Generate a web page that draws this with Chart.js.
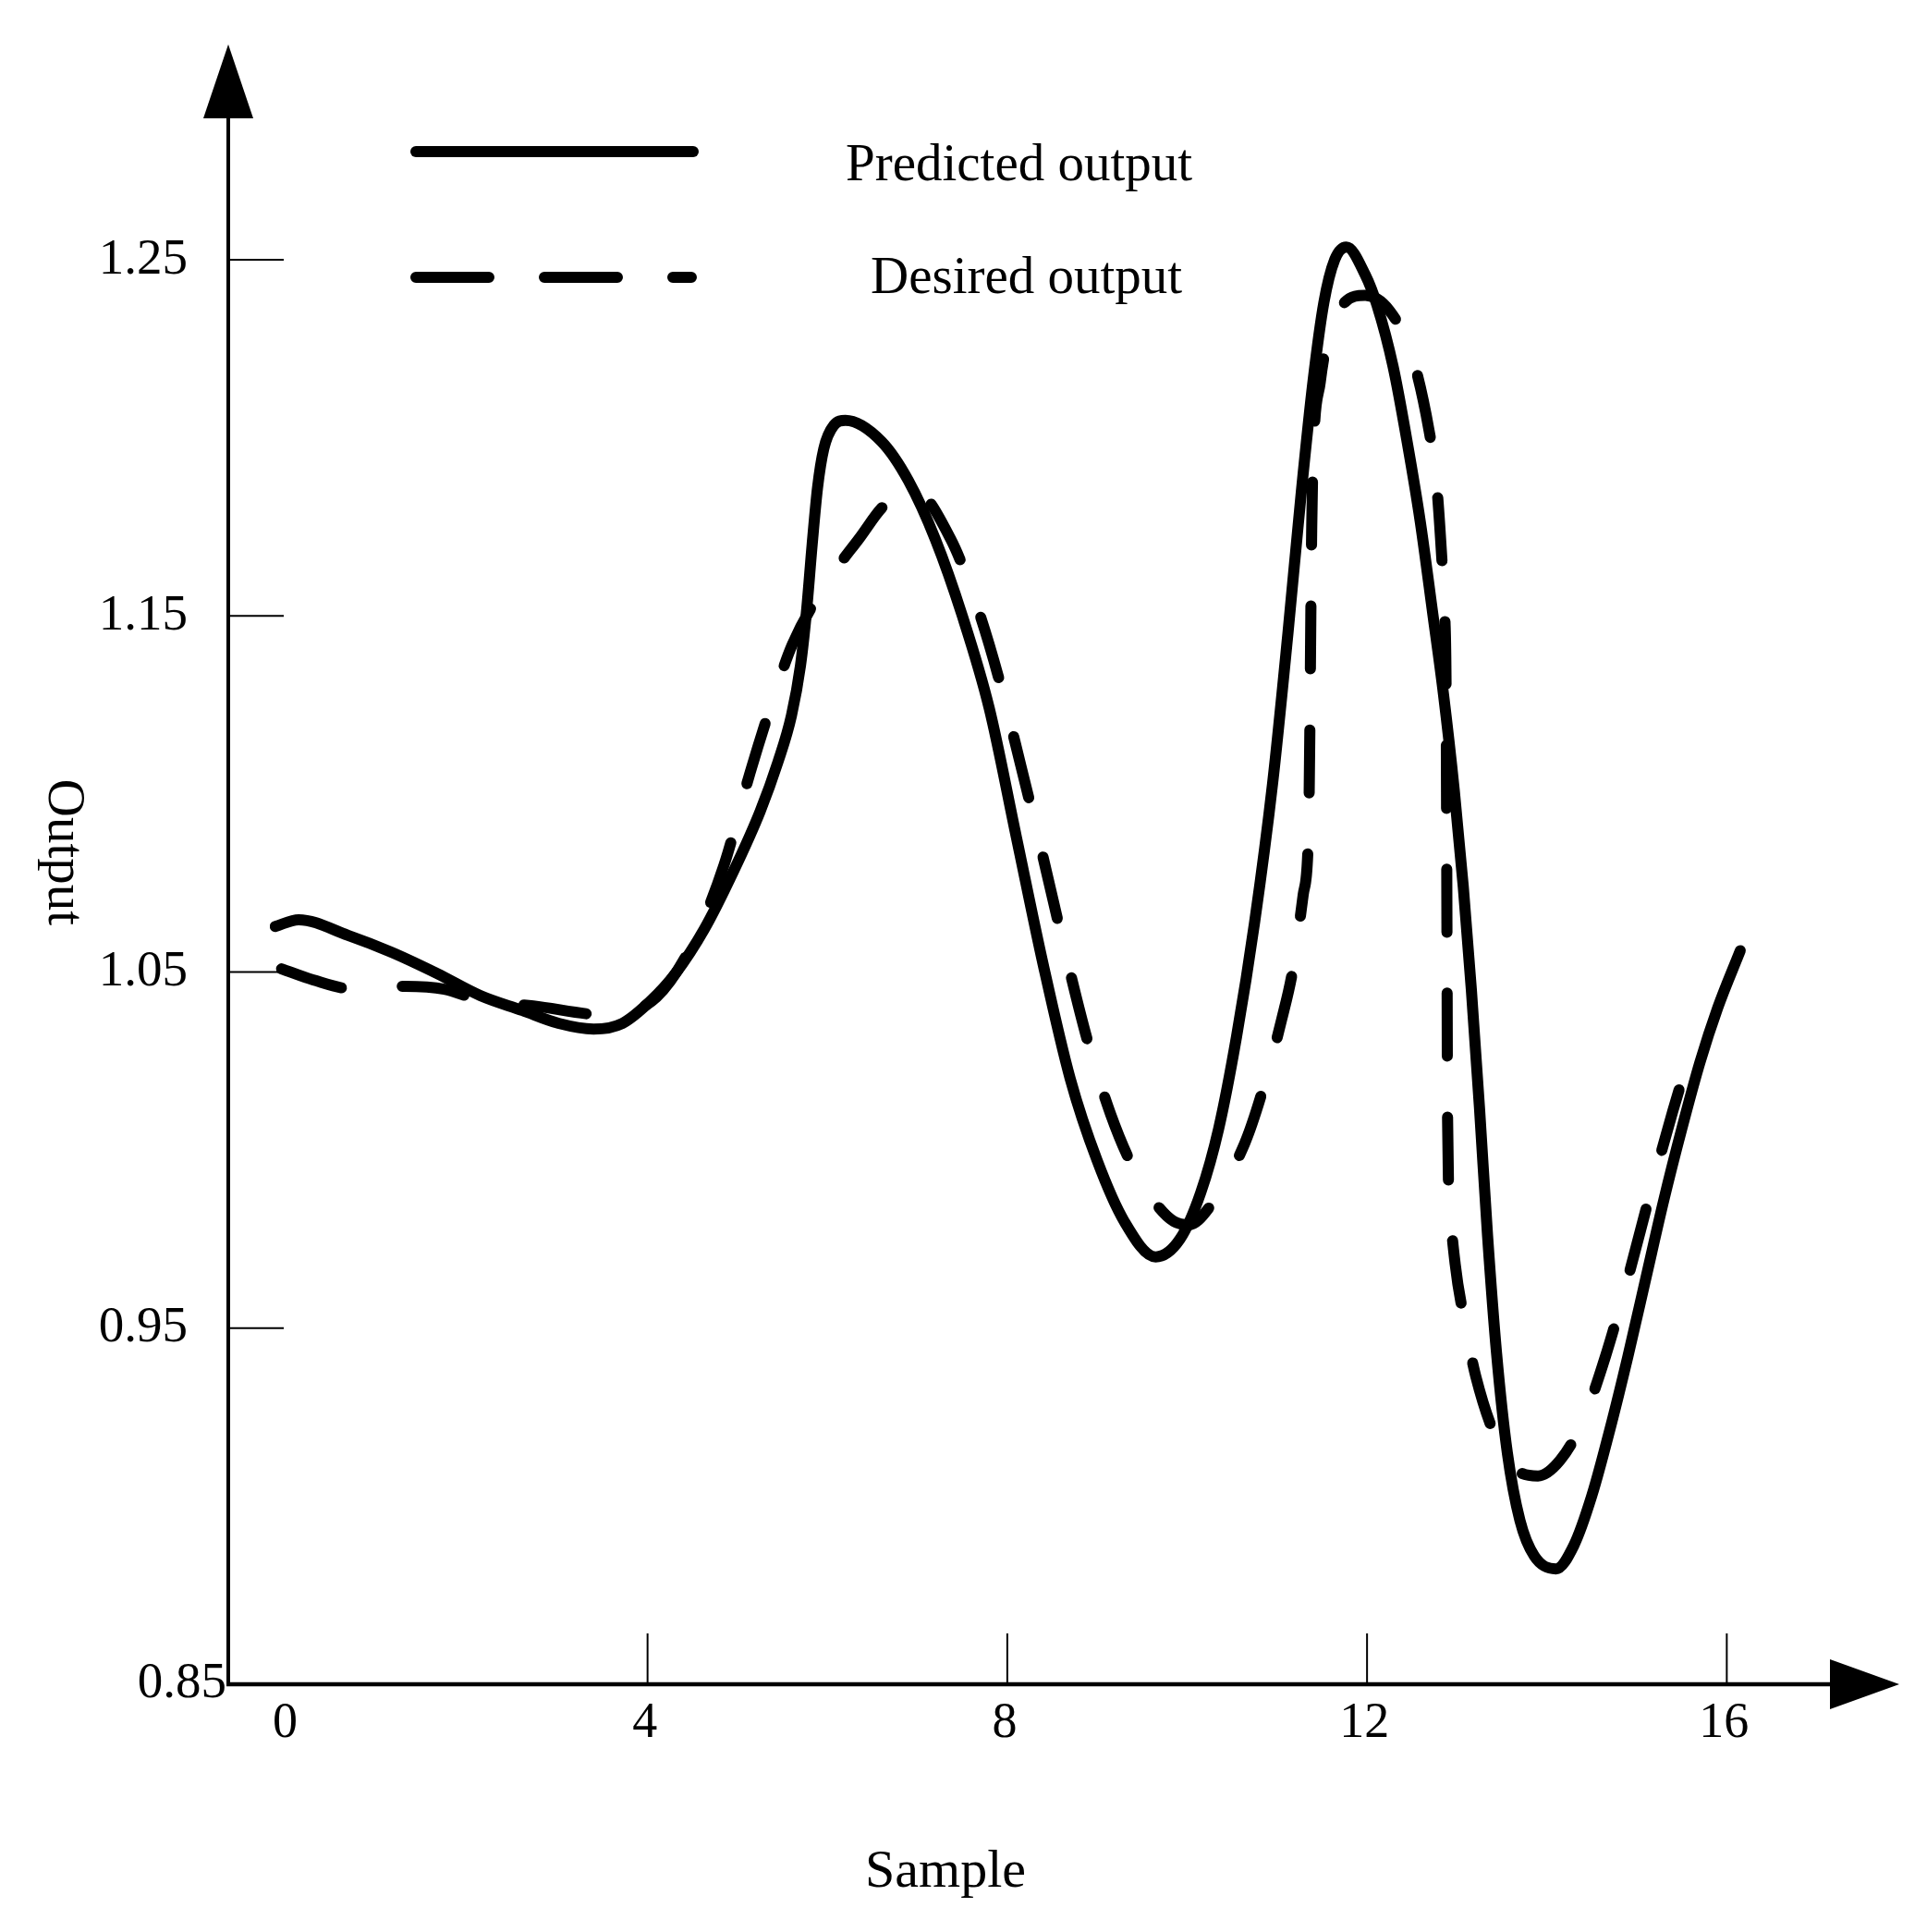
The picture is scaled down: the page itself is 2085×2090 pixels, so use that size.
<!DOCTYPE html>
<html>
<head>
<meta charset="utf-8">
<script src="https://cdn.jsdelivr.net/npm/chart.js@4.4.1/dist/chart.umd.min.js"></script>
<style>
  html, body { margin: 0; padding: 0; background: #fff; }
  #wrap { width: 2085px; height: 2090px; }
</style>
</head>
<body>
<div id="wrap"><canvas id="myChart" width="2085" height="2090"></canvas></div>
<script>
// series names
var seriesNames = ["Predicted output", "Desired output"];

// predicted output (solid)
var predX = [-0.14, 0.12, 0.67, 1.15, 1.66, 2.14, 2.61, 3.01, 3.40, 3.72, 4.03, 4.31, 4.63, 4.95, 5.25, 5.45, 5.60, 5.70, 5.77, 5.83, 5.89, 5.96, 6.07, 6.20, 6.60, 6.90, 7.20, 7.50, 7.80, 8.10, 8.40, 8.70, 9.00, 9.30, 9.65, 9.92, 10.15, 10.35, 10.55, 10.75, 10.95, 11.12, 11.27, 11.40, 11.52, 11.64, 11.77, 11.98, 12.11, 12.29, 12.45, 12.59, 12.73, 12.85, 12.97, 13.07, 13.16, 13.25, 13.34, 13.44, 13.56, 13.70, 13.86, 14.10, 14.30, 14.50, 14.70, 14.90, 15.10, 15.30, 15.50, 15.70, 15.90, 16.15];
var predY = [1.0628, 1.0647, 1.0603, 1.0556, 1.0496, 1.0434, 1.0392, 1.0356, 1.0340, 1.0356, 1.0418, 1.0496, 1.0620, 1.0780, 1.0950, 1.1090, 1.1220, 1.1360, 1.1520, 1.1700, 1.1860, 1.1970, 1.2035, 1.2049, 1.1990, 1.1880, 1.1715, 1.1500, 1.1240, 1.0880, 1.0520, 1.0200, 0.9970, 0.9800, 0.9700, 0.9750, 0.9880, 1.0060, 1.0320, 1.0640, 1.1030, 1.1450, 1.1850, 1.2160, 1.2380, 1.2500, 1.2536, 1.2458, 1.2373, 1.2200, 1.1983, 1.1768, 1.1508, 1.1280, 1.1010, 1.0740, 1.0450, 1.0120, 0.9760, 0.9430, 0.9150, 0.8960, 0.8860, 0.8824, 0.8890, 0.9030, 0.9215, 0.9420, 0.9640, 0.9860, 1.0060, 1.0245, 1.0400, 1.0560];

// desired output (dashed)
var desX = [-0.07, 0.28, 0.74, 1.30, 1.74, 2.14, 2.73, 3.56, 4.10, 4.50, 4.85, 5.14, 5.40, 5.61, 6.03, 6.36, 6.63, 6.95, 7.37, 7.66, 7.90, 8.15, 8.40, 8.65, 8.90, 9.15, 9.40, 9.65, 9.85, 10.02, 10.23, 10.64, 10.83, 11.05, 11.18, 11.29, 11.35, 11.365, 11.375, 11.385, 11.40, 11.48, 11.58, 11.75, 11.98, 12.25, 12.50, 12.69, 12.77, 12.83, 12.865, 12.88, 12.885, 12.89, 12.895, 12.92, 12.98, 13.09, 13.21, 13.48, 13.70, 13.90, 14.15, 14.40, 14.65, 14.90, 15.15, 15.40, 15.63];
var desY = [1.0509, 1.0478, 1.0452, 1.0460, 1.0452, 1.0421, 1.0405, 1.0379, 1.0430, 1.0580, 1.0800, 1.1060, 1.1270, 1.1420, 1.1607, 1.1720, 1.1810, 1.1855, 1.1716, 1.1530, 1.1330, 1.1080, 1.0820, 1.0550, 1.0300, 1.0100, 0.9950, 0.9850, 0.9800, 0.9790, 0.9834, 1.0019, 1.0160, 1.0366, 1.0514, 1.0717, 1.0900, 1.1200, 1.1500, 1.1750, 1.1940, 1.2157, 1.2295, 1.2380, 1.2400, 1.2357, 1.2230, 1.2020, 1.1880, 1.1667, 1.1500, 1.1250, 1.0900, 1.0500, 1.0100, 0.9850, 0.9680, 0.9512, 0.9364, 0.9165, 0.9095, 0.9085, 0.9130, 0.9240, 0.9420, 0.9640, 0.9880, 1.0110, 1.0300];

// axis ticks
var xTicks = [0, 4, 8, 12, 16];
var yTicks = [1.25, 1.15, 1.05, 0.95, 0.85];

var serif = '"Liberation Serif", "Times New Roman", serif';

function toPoints(xs, ys) {
    return xs.map(function(x, i) { return { x: x, y: ys[i] }; });
}

// axes with arrows, inward ticks, labels and the legend
var frame = {
    id: 'frame',
    afterDraw: function(chart) {
        var ctx = chart.ctx;
        var a = chart.chartArea;
        var xs = chart.scales.x, ys = chart.scales.y;
        ctx.save();
        ctx.strokeStyle = '#000';
        ctx.fillStyle = '#000';
        ctx.lineCap = 'butt';

        // y axis + arrow
        ctx.lineWidth = 4;
        ctx.beginPath();
        ctx.moveTo(a.left, a.bottom + 2);
        ctx.lineTo(a.left, a.top + 70);
        ctx.stroke();
        ctx.beginPath();
        ctx.moveTo(a.left, a.top);
        ctx.lineTo(a.left - 27, a.top + 80);
        ctx.lineTo(a.left + 27, a.top + 80);
        ctx.closePath();
        ctx.fill();

        // x axis + arrow
        ctx.lineWidth = 4.5;
        ctx.beginPath();
        ctx.moveTo(a.left - 2, a.bottom);
        ctx.lineTo(a.right - 70, a.bottom);
        ctx.stroke();
        ctx.beginPath();
        ctx.moveTo(a.right, a.bottom);
        ctx.lineTo(a.right - 75, a.bottom - 27);
        ctx.lineTo(a.right - 75, a.bottom + 27);
        ctx.closePath();
        ctx.fill();

        // ticks
        ctx.lineWidth = 2;
        yTicks.forEach(function(v) {
            if (v === ys.min) return;
            var y = ys.getPixelForValue(v);
            ctx.beginPath();
            ctx.moveTo(a.left, y);
            ctx.lineTo(a.left + 60, y);
            ctx.stroke();
        });
        xTicks.forEach(function(v) {
            if (v === 0) return;
            var x = xs.getPixelForValue(v);
            ctx.beginPath();
            ctx.moveTo(x, a.bottom);
            ctx.lineTo(x, a.bottom - 55);
            ctx.stroke();
        });

        // tick labels
        ctx.font = '55px ' + serif;
        ctx.textAlign = 'right';
        ctx.textBaseline = 'middle';
        yTicks.forEach(function(v) {
            var y = ys.getPixelForValue(v);
            var right = (v === ys.min) ? a.left - 2 : a.left - 44;
            ctx.fillText(v.toFixed(2), right, y);
        });
        ctx.font = '54px ' + serif;
        ctx.textAlign = 'center';
        ctx.textBaseline = 'alphabetic';
        xTicks.forEach(function(v) {
            ctx.fillText(String(v), xs.getPixelForValue(v) - 3, a.bottom + 57);
        });

        // axis titles
        ctx.font = '58px ' + serif;
        ctx.fillText('Sample', 1023, 2041);
        ctx.save();
        ctx.translate(68, 922);
        ctx.rotate(Math.PI / 2);
        ctx.font = '57px ' + serif;
        ctx.textAlign = 'center';
        ctx.textBaseline = 'middle';
        ctx.fillText('Output', 0, 0);
        ctx.restore();

        // legend
        ctx.lineWidth = 12;
        ctx.lineCap = 'round';
        ctx.beginPath();
        ctx.moveTo(450, 164);
        ctx.lineTo(750, 164);
        ctx.stroke();
        ctx.setLineDash([79, 60]);
        ctx.beginPath();
        ctx.moveTo(450, 300);
        ctx.lineTo(748, 300);
        ctx.stroke();
        ctx.setLineDash([]);
        ctx.font = '57px ' + serif;
        ctx.textAlign = 'left';
        ctx.textBaseline = 'alphabetic';
        ctx.fillText(chart.data.datasets[0].label, 915, 195);
        ctx.fillText(chart.data.datasets[1].label, 942, 317);
        ctx.restore();
    }
};

window.onload = function() {
    new Chart(document.getElementById("myChart").getContext('2d'), {
        type: 'line',
        data: {
            datasets: [{
                label: seriesNames[0],
                data: toPoints(predX, predY),
                borderColor: '#000',
                borderWidth: 12,
                pointRadius: 0,
                cubicInterpolationMode: 'monotone',
                borderCapStyle: 'round',
                borderJoinStyle: 'round',
                fill: false,
                clip: false
            }, {
                label: seriesNames[1],
                data: toPoints(desX, desY),
                borderColor: '#000',
                borderWidth: 12,
                borderDash: [68, 66],
                pointRadius: 0,
                cubicInterpolationMode: 'monotone',
                borderCapStyle: 'round',
                borderJoinStyle: 'round',
                fill: false,
                clip: false
            }]
        },
        options: {
            responsive: false,
            devicePixelRatio: 1,
            animation: false,
            layout: { padding: { left: 247, right: 30, top: 48, bottom: 268 } },
            scales: {
                x: { type: 'linear', min: -0.662, max: 17.918, display: false },
                y: { type: 'linear', min: 0.85, max: 1.3105, display: false }
            },
            plugins: {
                legend: { display: false },
                tooltip: { enabled: false }
            }
        },
        plugins: [frame]
    });
};
</script>
</body>
</html>
